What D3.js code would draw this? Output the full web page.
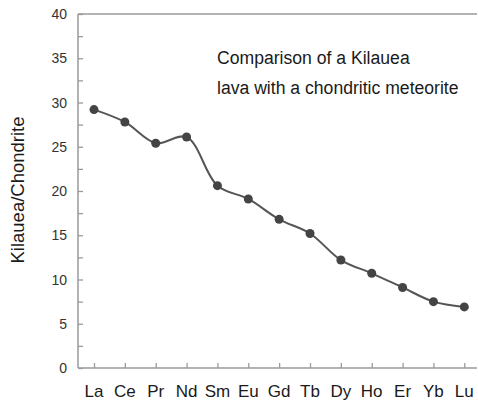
<!DOCTYPE html>
<html><head><meta charset="utf-8">
<script src="https://cdn.jsdelivr.net/npm/d3@7"></script>
<style>body{margin:0;background:#fff;} svg{display:block;font-family:"Liberation Sans",Arial,Helvetica,sans-serif;}</style>
</head><body>
<svg id="c" width="478" height="404"></svg>
<script>
const elements = ["La","Ce","Pr","Nd","Sm","Eu","Gd","Tb","Dy","Ho","Er","Yb","Lu"];
const ratios = [29.2,27.8,25.4,26.1,20.6,19.1,16.8,15.2,12.2,10.7,9.1,7.5,6.9];
const yTicks = [0,5,10,15,20,25,30,35,40];
const yMinorTicks = [2.5,7.5,12.5,17.5,22.5,27.5,32.5,37.5];
const yLabel = "Kilauea/Chondrite";
const noteLines = ["Comparison of a Kilauea","lava with a chondritic meteorite"];

const svg = d3.select("#c");
const mLeft = 78, mRight = 477, mTop = 14, mBottom = 368;
const x = d3.scalePoint().domain(elements).range([94, 464.3]);
const y = d3.scaleLinear().domain([0,40]).range([mBottom, mTop]);
const axisColor = "#9a9a9a";

// top border
svg.append("line").attr("x1",mLeft).attr("x2",mRight).attr("y1",y(40)).attr("y2",y(40))
  .attr("stroke",axisColor).attr("stroke-width",1.5);

// y axis
const yAxis = svg.append("g").attr("transform",`translate(${mLeft},0)`)
  .call(d3.axisRight(y).tickValues(yTicks).tickSize(5).tickFormat(""));
yAxis.select(".domain").remove();
yAxis.selectAll("line").attr("stroke",axisColor).attr("stroke-width",1.3);
svg.append("g").attr("transform",`translate(${mLeft},0)`)
  .call(d3.axisRight(y).tickValues(yMinorTicks).tickSize(5).tickFormat(""))
  .call(g=>g.select(".domain").remove())
  .selectAll("line").attr("stroke",axisColor).attr("stroke-width",1.3);
svg.append("line").attr("x1",mLeft).attr("x2",mLeft).attr("y1",mTop).attr("y2",mBottom)
  .attr("stroke",axisColor).attr("stroke-width",1.5);
svg.append("g").selectAll("text").data(yTicks).join("text")
  .attr("x",mLeft-11).attr("y",d=>y(d)+5).attr("text-anchor","end")
  .attr("font-size",14).attr("fill","#333").text(d=>d);

// x axis
const xAxis = svg.append("g").attr("transform",`translate(0,${mBottom})`)
  .call(d3.axisTop(x).tickSize(5).tickFormat(""));
xAxis.select(".domain").remove();
xAxis.selectAll("line").attr("stroke",axisColor).attr("stroke-width",1.3);
svg.append("line").attr("x1",mLeft).attr("x2",mRight).attr("y1",mBottom).attr("y2",mBottom)
  .attr("stroke",axisColor).attr("stroke-width",1.5);
svg.append("g").selectAll("text").data(elements).join("text")
  .attr("x",d=>x(d)).attr("y",397).attr("text-anchor","middle")
  .attr("font-size",17).attr("fill","#1a1a1a").text(d=>d);

// y label
svg.append("text").attr("transform",`translate(24,190) rotate(-90)`)
  .attr("text-anchor","middle").attr("font-size",18.5).attr("fill","#1a1a1a").text(yLabel);

// note
svg.append("g").selectAll("text").data(noteLines).join("text")
  .attr("x",217).attr("y",(d,i)=>64+i*30).attr("font-size",17.6).attr("fill","#1a1a1a").text(d=>d);

// line
const data = elements.map((e,i)=>({e,v:ratios[i]}));
svg.append("path").datum(data)
  .attr("d",d3.line().x(d=>x(d.e)).y(d=>y(d.v)).curve(d3.curveCatmullRom.alpha(0.5)))
  .attr("fill","none").attr("stroke","#555").attr("stroke-width",2);
svg.append("g").selectAll("circle").data(data).join("circle")
  .attr("cx",d=>x(d.e)).attr("cy",d=>y(d.v)).attr("r",4.5).attr("fill","#444");
</script>
</body></html>
